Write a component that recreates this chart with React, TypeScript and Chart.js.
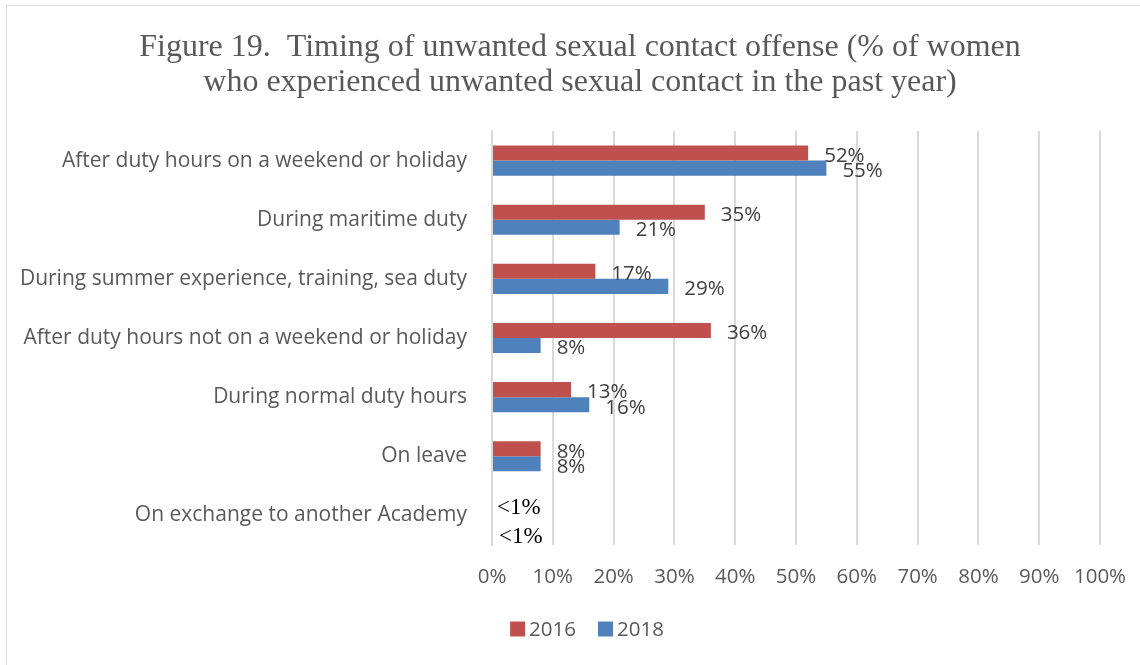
import React, { useEffect, useRef } from "react";
import { Chart, registerables } from "chart.js";

Chart.register(...registerables);

const categories = [
  "After duty hours on a weekend or holiday",
  "During maritime duty",
  "During summer experience, training, sea duty",
  "After duty hours not on a weekend or holiday",
  "During normal duty hours",
  "On leave",
  "On exchange to another Academy",
];
const values2016 = [52, 35, 17, 36, 13, 8, 0];
const values2018 = [55, 21, 29, 8, 16, 8, 0];
const labels2016 = ["52%", "35%", "17%", "36%", "13%", "8%", "<1%"];
const labels2018 = ["55%", "21%", "29%", "8%", "16%", "8%", "<1%"];
const xTicks = [0, 10, 20, 30, 40, 50, 60, 70, 80, 90, 100];
const titleLines = [
  "Figure 19.  Timing of unwanted sexual contact offense (% of women",
  "who experienced unwanted sexual contact in the past year)",
];

const SANS = "'Open Sans', 'Noto Sans', sans-serif";
const SERIF = "'Liberation Serif', 'DejaVu Serif', serif";

const dataLabelPlugin = {
  id: "dataLabels",
  afterDatasetsDraw(chart: any) {
    const ctx = chart.ctx;
    const allLabels = [labels2016, labels2018];
    chart.data.datasets.forEach((ds: any, di: number) => {
      const meta = chart.getDatasetMeta(di);
      meta.data.forEach((el: any, i: number) => {
        const v = ds.data[i];
        const txt = allLabels[di][i];
        ctx.save();
        ctx.textAlign = "left";
        ctx.textBaseline = "middle";
        if (v < 1) {
          ctx.font = `23px ${SERIF}`;
          ctx.fillStyle = "#000000";
          ctx.fillText(txt, el.x + 5 + di * 2, el.y + (di === 1 ? 14 : 0));
        } else {
          ctx.font = `20.5px ${SANS}`;
          ctx.fillStyle = "#404040";
          ctx.fillText(txt, el.x + 16, el.y + 3);
        }
        ctx.restore();
      });
    });
  },
};

const titleLegendPlugin = {
  id: "titleLegend",
  afterDraw(chart: any) {
    const ctx = chart.ctx;
    ctx.save();
    // title
    ctx.font = `32px ${SERIF}`;
    ctx.fillStyle = "#595959";
    ctx.textAlign = "center";
    ctx.textBaseline = "middle";
    titleLines.forEach((line, i) => ctx.fillText(line, 580, 48 + i * 35));
    // legend
    ctx.font = `20.5px ${SANS}`;
    const box = 15;
    const gap = 4;
    const itemGap = 22;
    const items = chart.data.datasets.map((ds: any) => ({
      label: ds.label,
      color: ds.backgroundColor,
      w: box + gap + ctx.measureText(ds.label).width,
    }));
    const total = items.reduce((s: number, it: any) => s + it.w, 0) + itemGap * (items.length - 1);
    let x = 587 - total / 2;
    const cy = 629;
    ctx.textAlign = "left";
    items.forEach((it: any) => {
      ctx.fillStyle = it.color;
      ctx.fillRect(x, cy - box / 2, box, box);
      ctx.fillStyle = "#595959";
      ctx.fillText(it.label, x + box + gap, cy + 1);
      x += it.w + itemGap;
    });
    ctx.restore();
  },
};

export default function App() {
  const ref = useRef<HTMLCanvasElement>(null);
  useEffect(() => {
    document.body.style.margin = "0";
    const chart = new Chart(ref.current!, {
      type: "bar",
      data: {
        labels: categories,
        datasets: [
          {
            label: "2016",
            data: values2016,
            backgroundColor: "#C0504D",
            categoryPercentage: 0.51,
            barPercentage: 1,
          },
          {
            label: "2018",
            data: values2018,
            backgroundColor: "#4F81BD",
            categoryPercentage: 0.51,
            barPercentage: 1,
          },
        ],
      },
      plugins: [dataLabelPlugin, titleLegendPlugin],
      options: {
        indexAxis: "y",
        animation: false,
        responsive: false,
        maintainAspectRatio: false,
        layout: { padding: { left: 10, right: 40, top: 131, bottom: 72 } },
        plugins: {
          tooltip: { enabled: false },
          title: { display: false },
          legend: { display: false },
        },
        scales: {
          x: {
            min: 0,
            max: 100,
            afterBuildTicks: (scale: any) => {
              scale.ticks = xTicks.map((v) => ({ value: v }));
            },
            afterFit: (scale: any) => {
              scale.height = 48;
              scale.paddingLeft = 0;
              scale.paddingRight = 0;
            },
            ticks: {
              callback: (v: any) => `${v}%`,
              color: "#595959",
              font: { family: SANS, size: 20.5 },
              padding: 20,
              maxRotation: 0,
            },
            grid: { color: "#d9d9d9", lineWidth: 2, drawTicks: false },
            border: { display: false },
          },
          y: {
            afterFit: (scale: any) => {
              scale.width = 492 - 10;
            },
            ticks: {
              color: "#595959",
              font: { family: SANS, size: 21 },
              padding: 17,
            },
            grid: { display: false },
            border: { display: true, color: "#d9d9d9", width: 2 },
          },
        },
      },
    });
    return () => chart.destroy();
  }, []);
  return (
    <div style={{ position: "relative", width: 1140, height: 665, background: "#fff" }}>
      <canvas ref={ref} width={1140} height={665} style={{ position: "absolute", left: 0, top: 0 }} />
      <div
        style={{
          position: "absolute",
          left: 6,
          top: 5,
          width: 1140,
          height: 665,
          border: "1px solid #d9d9d9",
          boxSizing: "border-box",
          pointerEvents: "none",
        }}
      />
    </div>
  );
}
